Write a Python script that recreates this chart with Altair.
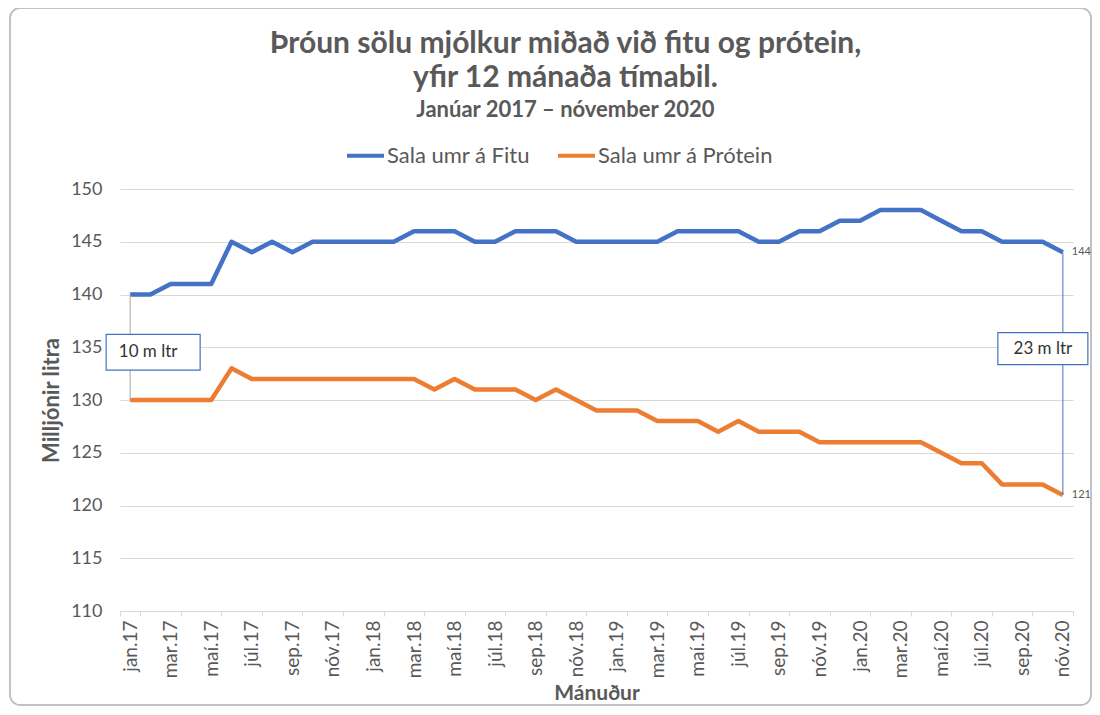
import altair as alt
import pandas as pd

months = [
    "jan.17", "feb.17", "mar.17", "apr.17", "maí.17", "jún.17", "júl.17", "ágú.17", "sep.17", "okt.17", "nóv.17", "des.17",
    "jan.18", "feb.18", "mar.18", "apr.18", "maí.18", "jún.18", "júl.18", "ágú.18", "sep.18", "okt.18", "nóv.18", "des.18",
    "jan.19", "feb.19", "mar.19", "apr.19", "maí.19", "jún.19", "júl.19", "ágú.19", "sep.19", "okt.19", "nóv.19", "des.19",
    "jan.20", "feb.20", "mar.20", "apr.20", "maí.20", "jún.20", "júl.20", "ágú.20", "sep.20", "okt.20", "nóv.20",
]
fitu = [140, 140, 141, 141, 141, 145, 144, 145, 144, 145, 145, 145,
        145, 145, 146, 146, 146, 145, 145, 146, 146, 146, 145, 145,
        145, 145, 145, 146, 146, 146, 146, 145, 145, 146, 146, 147,
        147, 148, 148, 148, 147, 146, 146, 145, 145, 145, 144]
protein = [130, 130, 130, 130, 130, 133, 132, 132, 132, 132, 132, 132,
           132, 132, 132, 131, 132, 131, 131, 131, 130, 131, 130, 129,
           129, 129, 128, 128, 128, 127, 128, 127, 127, 127, 126, 126,
           126, 126, 126, 126, 125, 124, 124, 122, 122, 122, 121]
series_names = ["Sala umr á Fitu", "Sala umr á Prótein"]
series_colors = ["#4472C4", "#ED7D31"]
tick_labels = months[::2]
y_ticks = [110, 115, 120, 125, 130, 135, 140, 145, 150]

long = pd.DataFrame({
    "month": months * 2,
    "series": [series_names[0]] * len(months) + [series_names[1]] * len(months),
    "value": fitu + protein,
})

first, last = months[0], months[-1]
gap_start = pd.DataFrame({"month": [first], "top": [fitu[0]], "bottom": [protein[0]],
                          "label": [f"{fitu[0] - protein[0]} m ltr"]})
gap_start["mid"] = (gap_start["top"] + gap_start["bottom"]) / 2
gap_end = pd.DataFrame({"month": [last], "top": [fitu[-1]], "bottom": [protein[-1]],
                        "label": [f"{fitu[-1] - protein[-1]} m ltr"]})
gap_end["mid"] = (gap_end["top"] + gap_end["bottom"]) / 2
end_labels = pd.DataFrame({"month": [last, last], "value": [fitu[-1], protein[-1]]})

W, H = 953, 422
FONT = "Lato"
GREY = "#595959"

xenc = alt.X("month:N", sort=months, bandPosition=0.5,
             scale=alt.Scale(type="band", paddingInner=0, paddingOuter=0),
             axis=alt.Axis(values=tick_labels, labelAngle=-90, tickBand="extent",
                           title="Mánuður", grid=False, domainColor="#D9D9D9",
                           tickColor="#D9D9D9", tickSize=5, labelFontSize=19,
                           labelPadding=4, titleFontSize=21, titlePadding=5))
yscale = alt.Scale(domain=[110, 150], nice=False, zero=False)

lines = alt.Chart(long).mark_line(strokeWidth=4.5, strokeJoin="round").encode(
    x=xenc,
    y=alt.Y("value:Q", scale=yscale,
            axis=alt.Axis(values=y_ticks, title="Milljónir litra", domain=False, ticks=False,
                          gridColor="#D9D9D9", labelFontSize=18, labelPadding=18,
                          titleFontSize=22, titlePadding=7)),
    color=alt.Color("series:N", scale=alt.Scale(domain=series_names, range=series_colors),
                    legend=alt.Legend(title=None, orient="none", direction="horizontal",
                                      legendX=225, legendY=-54, symbolType="stroke",
                                      symbolStrokeWidth=4, symbolSize=1369,
                                      labelFontSize=22, labelColor=GREY, labelOffset=1,
                                      labelLimit=400, columnPadding=20, labelFont=FONT)),
)

rule_start = alt.Chart(gap_start).mark_rule(color="#A6A6A6", strokeWidth=1).encode(
    x=alt.X("month:N", sort=months, bandPosition=0.5), y="top:Q", y2="bottom:Q")
rule_end = alt.Chart(gap_end).mark_rule(color="#4472C4", strokeWidth=1).encode(
    x=alt.X("month:N", sort=months, bandPosition=0.5), y="top:Q", y2="bottom:Q")

box_start = alt.Chart(gap_start).mark_point(
    shape="M-1,-0.38L1,-0.38L1,0.38L-1,0.38Z", size=94 * 94, filled=True, fill="white",
    stroke="#4472C4", strokeWidth=1.2, opacity=1, xOffset=23, yOffset=5).encode(
    x=alt.X("month:N", sort=months, bandPosition=0.5), y="mid:Q")
text_start = alt.Chart(gap_start).mark_text(
    fontSize=17, color="#333333", font=FONT, xOffset=18, yOffset=5).encode(
    x=alt.X("month:N", sort=months, bandPosition=0.5), y="mid:Q", text="label:N")
box_end = alt.Chart(gap_end).mark_point(
    shape="M-1,-0.356L1,-0.356L1,0.356L-1,0.356Z", size=90 * 90, filled=True, fill="white",
    stroke="#4472C4", strokeWidth=1.2, opacity=1, xOffset=-20, yOffset=-25).encode(
    x=alt.X("month:N", sort=months, bandPosition=0.5), y="mid:Q")
text_end = alt.Chart(gap_end).mark_text(
    fontSize=17, color="#333333", font=FONT, xOffset=-20, yOffset=-25).encode(
    x=alt.X("month:N", sort=months, bandPosition=0.5), y="mid:Q", text="label:N")

end_text = alt.Chart(end_labels).mark_text(
    fontSize=11, color=GREY, font=FONT, align="left", dx=9).encode(
    x=alt.X("month:N", sort=months, bandPosition=0.5), y="value:Q", text="value:Q")

frame = alt.Chart(end_labels).mark_rect(
    fill=None, stroke="#BFBFBF", strokeWidth=1.5, cornerRadius=10).encode(
    x=alt.value(-110), x2=alt.value(W + 18), y=alt.value(-181), y2=alt.value(H + 94))

chart = alt.layer(
    frame, lines, rule_start, rule_end, box_start, text_start, box_end, text_end, end_text
).properties(
    width=W, height=H,
    autosize=alt.AutoSizeParams(type="none"),
    padding={"left": 112, "top": 181, "right": 19, "bottom": 96},
    title=alt.Title(
        text=["Þróun sölu mjólkur miðað við fitu og prótein,", "yfir 12 mánaða tímabil."],
        subtitle="Janúar 2017 – nóvember 2020",
        anchor="middle", dx=-31, offset=-114, fontSize=30, lineHeight=34,
        font=FONT, color=GREY, fontWeight="bold",
        subtitleFont=FONT, subtitleFontSize=22, subtitleFontWeight="bold",
        subtitleColor=GREY, subtitlePadding=7,
    ),
).configure_view(stroke=None).configure_axis(
    labelFont=FONT, titleFont=FONT, labelColor=GREY, titleColor=GREY, titleFontWeight="bold"
)

chart.save("out.html", embed_options={"renderer": "svg", "actions": False})
